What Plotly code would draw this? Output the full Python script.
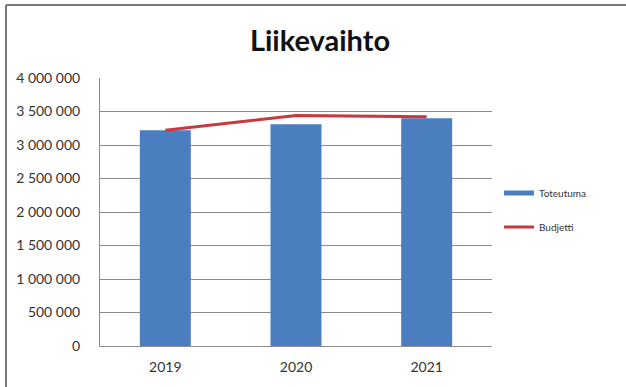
import plotly.graph_objects as go

years = ["2019", "2020", "2021"]
toteutuma = [3220000, 3310000, 3400000]
budjetti = [3220000, 3440000, 3420000]
tick_vals = [0, 500000, 1000000, 1500000, 2000000, 2500000, 3000000, 3500000, 4000000]
tick_text = ["0", "500 000", "1 000 000", "1 500 000", "2 000 000", "2 500 000",
             "3 000 000", "3 500 000", "4 000 000"]

FONT = "Lato"
fig = go.Figure()
fig.add_trace(go.Bar(x=years, y=toteutuma, name="Toteutuma", marker_color="#4a7ebf",
                     marker_line_width=0, width=0.39, showlegend=False))
fig.add_trace(go.Scatter(x=years, y=budjetti, name="Budjetti", mode="lines",
                         line=dict(color="#c8383f", width=3), showlegend=False))
# legend entries
fig.add_trace(go.Scatter(x=[None], y=[None], name="Toteutuma", mode="lines",
                         line=dict(color="#4a7ebf", width=5), legendgroup="a"))
fig.add_trace(go.Scatter(x=[None], y=[None], name="Budjetti", mode="lines",
                         line=dict(color="#c8383f", width=3), legendgroup="b"))

W, H = 626, 387
ml, mr, mt, mb = 100, 134, 78, 41
pw, ph = W - ml - mr, H - mt - mb

def px(x):
    return (x - ml) / pw

def py(y):
    return (H - mb - y) / ph

fig.update_layout(
    width=W, height=H,
    margin=dict(l=ml, r=mr, t=mt, b=mb, autoexpand=False),
    paper_bgcolor="white", plot_bgcolor="white",
    font=dict(family=FONT, color="#333333", size=14),
    title=dict(text="<b>Liikevaihto</b>", x=px(320), xref="paper", xanchor="center",
               y=1 - 41 / H, yanchor="middle", font=dict(size=29, color="#111111")),
    bargap=0.6,
    legend=dict(x=px(499), y=py(210), xanchor="left", yanchor="middle",
                font=dict(size=10, color="#333333"), itemwidth=30,
                traceorder="grouped", tracegroupgap=15, bgcolor="rgba(0,0,0,0)"),
    xaxis=dict(showgrid=False, showline=True, linecolor="#8c8c8c", linewidth=1,
               ticks="", ticklabelstandoff=8, tickfont=dict(size=14), automargin=False),
    yaxis=dict(range=[0, 4000000], tickvals=tick_vals, ticktext=tick_text,
               showgrid=True, gridcolor="#8a8a8a", gridwidth=1,
               showline=True, linecolor="#8c8c8c", linewidth=1, automargin=False,
               ticks="", ticklabelstandoff=16, tickfont=dict(size=14), zeroline=False),
    shapes=[
        dict(type="line", xref="paper", yref="paper", x0=px(6), x1=px(W + 20),
             y0=py(5), y1=py(5), line=dict(color="#7a7a7a", width=2), layer="above"),
        dict(type="line", xref="paper", yref="paper", x0=px(6), x1=px(6),
             y0=py(H + 20), y1=py(5), line=dict(color="#7a7a7a", width=2), layer="above"),
    ],
)
fig.write_html(
    "out.html",
    config={"displayModeBar": False},
    post_script=("document.documentElement.style.margin='0';"
                 "document.body.style.margin='0';"
                 "document.documentElement.style.overflow='hidden';"
                 "document.body.style.overflow='hidden';"),
)
